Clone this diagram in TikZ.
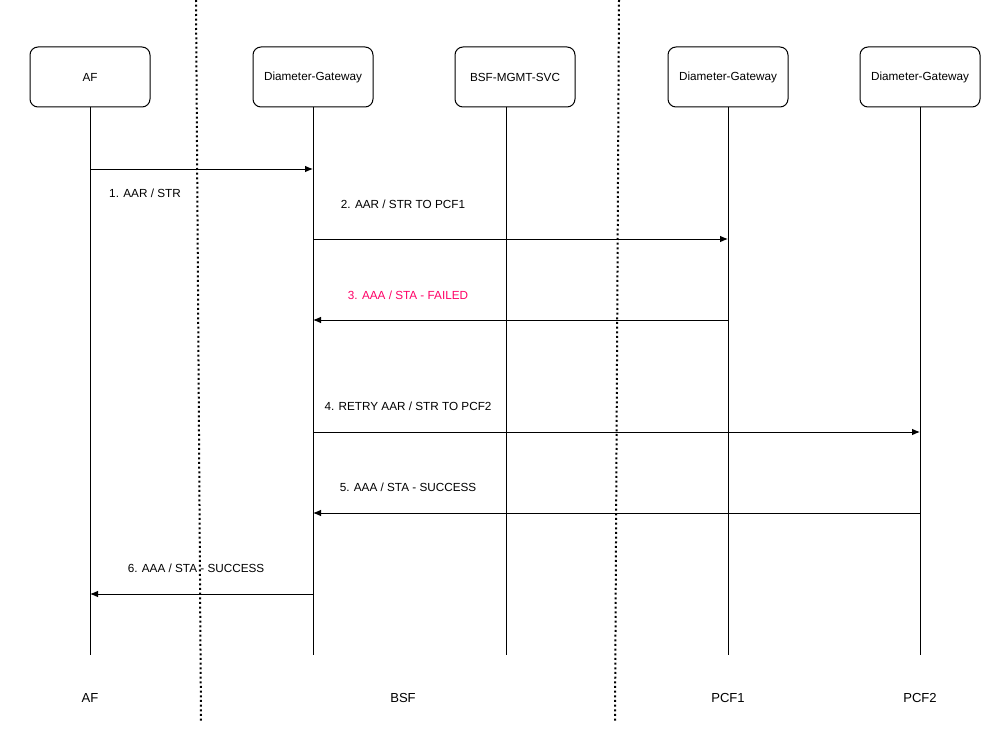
\documentclass[tikz,border=0pt]{standalone}
\usetikzlibrary{arrows.meta}
\usepackage{fontspec}
\setmainfont{Liberation Sans}
\begin{document}
\begin{tikzpicture}[x=0.75pt,y=-0.75pt,font=\fontsize{8.8}{10}\selectfont,line width=0.75pt,
 box/.style={draw,rounded corners=6pt,minimum width=90pt,minimum height=45pt,fill=white},
 life/.style={draw},
 msg/.style={draw,-{Latex[length=6pt,width=5pt]}},
 lbl/.style={inner sep=0pt}]
\useasboundingbox (0,0) rectangle (1000,742);
\draw[dotted,line width=1.5pt] (196,0) -- (201,722);
\draw[dotted,line width=1.5pt] (619,0) -- (615,722);
\node[box] (af) at (90,77) {AF};
\node[box] (dg1) at (313,77) {Diameter-Gateway};
\node[box] (bsf) at (515,77) {BSF-MGMT-SVC};
\node[box] (dg2) at (728,77) {Diameter-Gateway};
\node[box] (dg3) at (920,77) {Diameter-Gateway};
\coordinate (afe) at (90,655);
\coordinate (dg1e) at (313,655);
\coordinate (bsfs) at (506,107);
\coordinate (bsfe) at (506,655);
\coordinate (dg2e) at (728,655);
\coordinate (dg3e) at (920,655);
\draw[life] (af) -- (afe);
\draw[life] (dg1) -- (dg1e);
\draw[life] (bsfs) -- (bsfe);
\draw[life] (dg2) -- (dg2e);
\draw[life] (dg3) -- (dg3e);
\draw[msg] (90,169) -- (313,169);
\node[lbl] (l1) at (145,193) {1. AAR / STR};
\draw[msg] (313,239) -- (728,239);
\node[lbl] (l2) at (403,204) {2. AAR / STR TO PCF1};
\draw[msg] (728,320) -- (313,320);
\node[lbl,text={rgb,255:red,255;green,0;blue,102}] (l3) at (408,295) {3. AAA / STA - FAILED};
\draw[msg] (313,432) -- (920,432);
\node[lbl] (l4) at (408,406) {4. RETRY AAR / STR TO PCF2};
\draw[msg] (920,513) -- (313,513);
\node[lbl] (l5) at (408,487) {5. AAA / STA - SUCCESS};
\draw[msg] (313,594) -- (90,594);
\node[lbl] (l6) at (196,568) {6. AAA / STA - SUCCESS};
\begin{scope}[font=\fontsize{9.8}{11}\selectfont]
\node (b1) at (90,698) {AF};
\node (b2) at (403,698) {BSF};
\node (b3) at (728,698) {PCF1};
\node (b4) at (920,698) {PCF2};
\end{scope}
\end{tikzpicture}
\end{document}
